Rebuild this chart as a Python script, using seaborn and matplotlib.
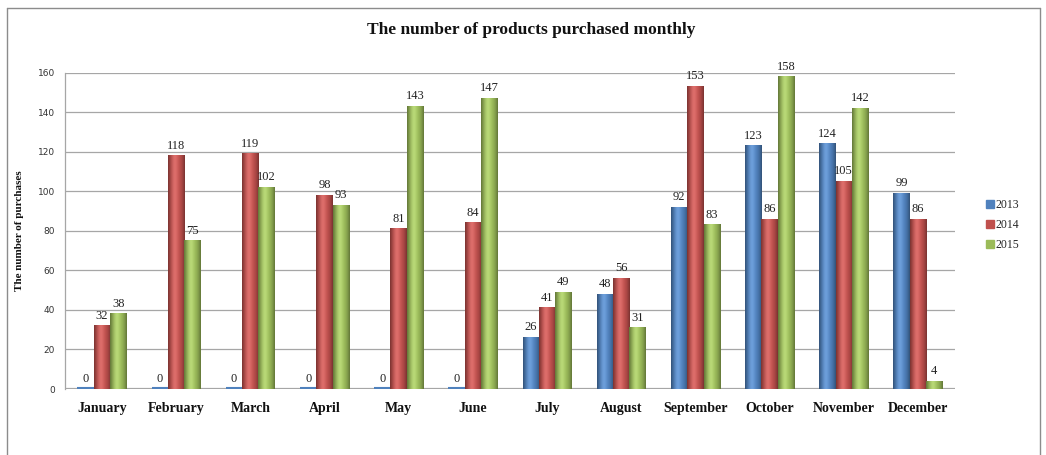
import numpy as np
import pandas as pd
import matplotlib
matplotlib.use("Agg")
import matplotlib.pyplot as plt
from matplotlib.colors import to_rgb
from matplotlib.lines import Line2D
import seaborn as sns

months = ["January", "February", "March", "April", "May", "June", "July",
          "August", "September", "October", "November", "December"]
years = ["2013", "2014", "2015"]
sales_2013 = [0, 0, 0, 0, 0, 0, 26, 48, 92, 123, 124, 99]
sales_2014 = [32, 118, 119, 98, 81, 84, 41, 56, 153, 86, 105, 86]
sales_2015 = [38, 75, 102, 93, 143, 147, 49, 31, 83, 158, 142, 4]
y_ticks = [0, 20, 40, 60, 80, 100, 120, 140, 160]
colors = ["#4F81BD", "#C0504D", "#9BBB59"]

df = pd.DataFrame({
    "month": months * 3,
    "year": [y for y in years for _ in months],
    "count": sales_2013 + sales_2014 + sales_2015,
})

sns.set_theme(style="white")
plt.rcParams["font.family"] = ["Liberation Serif", "DejaVu Serif"]

fig = plt.figure(figsize=(10.46, 4.55), dpi=100)
ax = fig.add_axes([0.062, 0.145, 0.851, 0.695])

sns.barplot(data=df, x="month", y="count", hue="year", order=months,
            hue_order=years, palette=colors, width=0.66, gap=0.0,
            saturation=1, linewidth=0, ax=ax, legend=False, zorder=3)

# cylinder-like shading on each bar
for patch, col in zip(ax.patches, [c for c in colors for _ in months]):
    x0, y0 = patch.get_x(), patch.get_y()
    w, h = patch.get_width(), patch.get_height()
    if h <= 0:
        continue
    base = np.array(to_rgb(col))
    t = np.linspace(-1, 1, 64)
    shade = 1 - 0.38 * np.abs(t) ** 2.5
    glow = 0.12 * np.exp(-((t + 0.2) / 0.4) ** 2)
    light = np.clip(base * shade[:, None] + glow[:, None], 0, 1)
    ax.imshow(light[None, :, :], extent=[x0, x0 + w, y0, y0 + h], aspect="auto",
              interpolation="bicubic", zorder=4)

# zero-height 2013 bars show as a thin sliver
for patch in ax.patches[:12]:
    if patch.get_height() == 0:
        ax.plot([patch.get_x(), patch.get_x() + patch.get_width()], [0.4, 0.4],
                color="#4F81BD", lw=1.5, zorder=5, solid_capstyle="butt")

for container in ax.containers:
    ax.bar_label(container, padding=3, fontsize=9, color="#222222", zorder=6)

ax.set_xlim(-0.5, 11.5)
ax.set_ylim(0, 160)
ax.set_yticks(y_ticks)
ax.set_yticklabels([str(v) for v in y_ticks], family="DejaVu Sans", fontsize=6.5,
                   color="#333333")
ax.tick_params(axis="y", length=0, pad=7)
ax.tick_params(axis="x", length=0, pad=9)
for lab in ax.get_xticklabels():
    lab.set_fontweight("bold")
    lab.set_fontsize(10)
    lab.set_color("#111111")
ax.yaxis.grid(True, color="#A6A6A6", lw=0.9, zorder=0)
ax.set_axisbelow(True)
for s in ["top", "right", "bottom"]:
    ax.spines[s].set_visible(False)
ax.spines["left"].set_color("#A6A6A6")
ax.spines["left"].set_linewidth(0.9)
ax.axhline(0, color="#A6A6A6", lw=1.6, zorder=2)

ax.set_xlabel("")
ax.set_ylabel("The number of purchases", fontsize=8, fontweight="bold",
              color="#111111")
ax.yaxis.set_label_coords(-0.046, 0.5)

fig.text(0.508, 0.935, "The number of products purchased monthly",
         ha="center", va="center", fontsize=12.5, fontweight="bold",
         color="#111111")

handles = [Line2D([], [], marker="s", ls="", markersize=5.5, color=c) for c in colors]
fig.legend(handles, years, loc="center left", bbox_to_anchor=(0.935, 0.505),
           frameon=False, fontsize=8.5, handletextpad=0.0, labelspacing=0.7,
           borderpad=0, handlelength=1.0)

# outer frame
fig.add_artist(Line2D([0.007, 0.007], [0.0, 0.983], transform=fig.transFigure,
                      color="#8C8C8C", lw=1.0))
fig.add_artist(Line2D([0.007, 0.994], [0.983, 0.983], transform=fig.transFigure,
                      color="#8C8C8C", lw=1.0))
fig.add_artist(Line2D([0.994, 0.994], [0.0, 0.983], transform=fig.transFigure,
                      color="#8C8C8C", lw=1.0))

fig.savefig("out.png", dpi=100, facecolor="white")
